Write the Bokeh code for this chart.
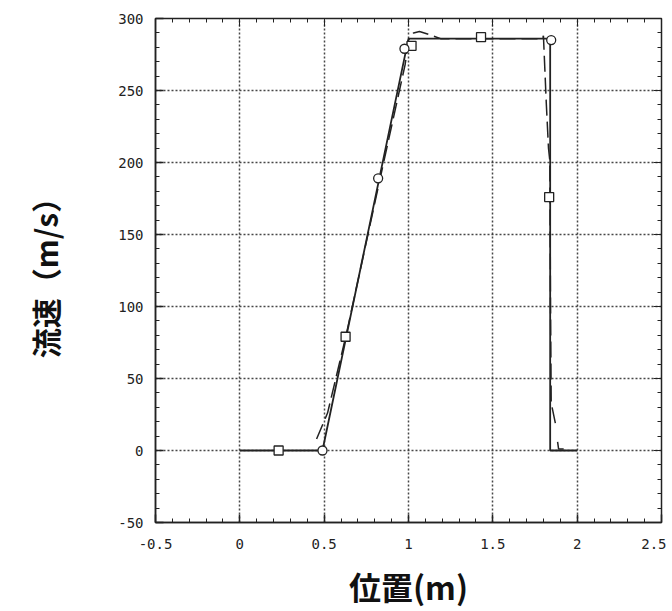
from bokeh.plotting import figure
from bokeh.models import FixedTicker, LinearAxis
from bokeh.embed import file_html
from bokeh.resources import INLINE

# ---- data ----
x_ticks = [-0.5, 0, 0.5, 1, 1.5, 2, 2.5]
x_tick_labels = ["-0.5", "0", "0.5", "1", "1.5", "2", "2.5"]
x_minor = [round(-0.5 + 0.1 * i, 2) for i in range(31)]
y_ticks = [-50, 0, 50, 100, 150, 200, 250, 300]
y_tick_labels = ["-50", "0", "50", "100", "150", "200", "250", "300"]
y_minor = [-50 + 10 * i for i in range(36)]

solid_x = [0.0, 0.49, 1.0, 1.84, 1.84, 2.0]
solid_y = [0, 0, 286, 286, 0, 0]

dash_x = [0.455, 0.52, 0.63, 0.83, 0.98, 1.0, 1.03, 1.065, 1.12, 1.19, 1.795, 1.80, 1.817, 1.83, 1.838, 1.842, 1.846, 1.876]
dash_y = [8, 26, 80, 188, 268, 285, 290, 291, 289, 286, 286, 288, 241, 210, 201, 100, 33, 16]
dash2_x = [1.884, 1.89, 1.92]
dash2_y = [6, 1, 1]

sq_x = [0.23, 0.627, 1.018, 1.43, 1.834]
sq_y = [0, 79, 281, 287, 176]
ci_x = [0.49, 0.82, 0.976, 1.846]
ci_y = [0, 189, 279, 285]

W, H = 666, 611
p = figure(width=W, height=H, x_range=(-0.5, 2.5), y_range=(-50, 300),
           output_backend="svg", toolbar_location=None,
           min_border_left=155, min_border_right=5, min_border_top=18, min_border_bottom=20)
p.background_fill_color = "white"
p.outline_line_color = "#222222"
p.outline_line_width = 1.5

tick_font = "DejaVu Sans Mono"
for ax in (p.xaxis[0], p.yaxis[0]):
    ax.axis_line_color = "#222222"
    ax.axis_line_width = 1.5
    ax.major_tick_in = 8
    ax.major_tick_out = 0
    ax.minor_tick_in = 4
    ax.minor_tick_out = 0
    ax.major_tick_line_color = "#222222"
    ax.minor_tick_line_color = "#222222"
    ax.major_tick_line_width = 1.5
    ax.major_label_text_font = tick_font
    ax.major_label_text_font_size = "14px"
    ax.major_label_text_color = "#222222"

p.xaxis.ticker = FixedTicker(ticks=x_ticks, minor_ticks=x_minor)
p.yaxis.ticker = FixedTicker(ticks=y_ticks, minor_ticks=y_minor)
p.xaxis.major_label_overrides = {t: l for t, l in zip(x_ticks, x_tick_labels)}
p.yaxis.major_label_overrides = {t: l for t, l in zip(y_ticks, y_tick_labels)}
p.xaxis.major_label_standoff = 16
p.yaxis.major_label_standoff = 12

p.xaxis.axis_label = "位置(m)"
p.yaxis.axis_label = "流速（m/s）"
for ax in (p.xaxis[0], p.yaxis[0]):
    ax.axis_label_text_font = "Noto Sans CJK JP"
    ax.axis_label_text_font_style = "bold"
    ax.axis_label_text_color = "#111111"
p.xaxis.axis_label_text_font_size = "32px"
p.yaxis.axis_label_text_font_size = "30px"
p.xaxis.axis_label_standoff = 11
p.yaxis.axis_label_standoff = 48

# inward ticks on top and right (no labels)
for loc in ("above", "right"):
    ticks = y_ticks if loc == "right" else x_ticks
    minors = y_minor if loc == "right" else x_minor
    ax = LinearAxis(ticker=FixedTicker(ticks=ticks, minor_ticks=minors),
                    major_label_overrides={t: "" for t in ticks},
                    major_label_text_font_size="10px", major_label_standoff=0,
                    major_tick_in=8, major_tick_out=0, minor_tick_in=4, minor_tick_out=0,
                    axis_line_color="#222222", major_tick_line_color="#222222",
                    minor_tick_line_color="#222222")
    p.add_layout(ax, loc)

p.xgrid.ticker = FixedTicker(ticks=x_ticks[1:-1])
p.ygrid.ticker = FixedTicker(ticks=y_ticks[1:-1])
for g in (p.xgrid[0], p.ygrid[0]):
    g.grid_line_color = "#333333"
    g.grid_line_dash = "2 2"
    g.grid_line_width = 1.5
    g.grid_line_alpha = 0.9

p.line(dash_x, dash_y, line_color="#222222", line_width=1.5, line_dash="16 6")
p.line(dash2_x, dash2_y, line_color="#222222", line_width=1.5)
p.line(solid_x, solid_y, line_color="#222222", line_width=1.8)
p.scatter(sq_x, sq_y, marker="square", size=9, fill_color="white", line_color="#222222", line_width=1.3)
p.scatter(ci_x, ci_y, marker="circle", size=9, fill_color="white", line_color="#222222", line_width=1.3)

open("out.html", "w").write(file_html(p, INLINE))
